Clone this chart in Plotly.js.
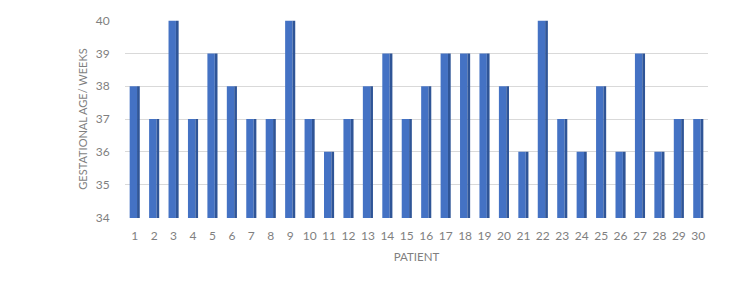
<!DOCTYPE html>
<html>
<head>
<meta charset="utf-8">
<script src="https://cdn.plot.ly/plotly-3.0.1.min.js"></script>
<style>html,body{margin:0;padding:0;background:#fff;}#chart{width:752px;height:282px;}</style>
</head>
<body>
<div id="chart"></div>
<script>
const patients = ["1","2","3","4","5","6","7","8","9","10","11","12","13","14","15","16","17","18","19","20","21","22","23","24","25","26","27","28","29","30"];
const weeks = [38,37,40,37,39,38,37,37,40,37,36,37,38,39,37,38,39,39,39,38,36,40,37,36,38,36,39,36,37,37];
const yTicks = [34,35,36,37,38,39,40];

const front = {
  type: 'bar', x: patients, y: weeks,
  width: 0.38, offset: -0.26,
  marker: {color: '#4472C4', line: {width: 0}},
  hoverinfo: 'x+y'
};
const side = {
  type: 'bar', x: patients, y: weeks,
  width: 0.14, offset: 0.12,
  marker: {color: '#2F5597', line: {width: 0}},
  hoverinfo: 'skip'
};

const layout = {
  width: 752, height: 282,
  margin: {l: 125, r: 44, t: 20, b: 64},
  paper_bgcolor: '#fff', plot_bgcolor: '#fff',
  barmode: 'overlay',
  showlegend: false,
  font: {family: 'Lato, "Open Sans", sans-serif', color: '#7f7f7f', size: 11},
  xaxis: {
    type: 'category',
    showgrid: false, zeroline: false, showline: false,
    ticks: 'outside', ticklen: 7, tickcolor: 'rgba(0,0,0,0)',
    tickfont: {size: 12, color: '#7f7f7f'},
    title: {text: 'PATIENT', font: {size: 11.5, color: '#7f7f7f'}, standoff: 10}
  },
  yaxis: {
    range: [33.98, 40.02],
    tickvals: yTicks, ticktext: yTicks.map(String),
    showgrid: true, gridcolor: '#d9d9d9', gridwidth: 1,
    zeroline: false, showline: false,
    ticks: 'outside', ticklen: 12, tickcolor: 'rgba(0,0,0,0)',
    tickfont: {size: 12, color: '#7f7f7f'},
    title: {text: 'GESTATIONAL AGE/ WEEKS', font: {size: 11, color: '#7f7f7f'}, standoff: 5}
  }
};

Plotly.newPlot('chart', [front, side], layout, {staticPlot: true, displayModeBar: false});
</script>
</body>
</html>
